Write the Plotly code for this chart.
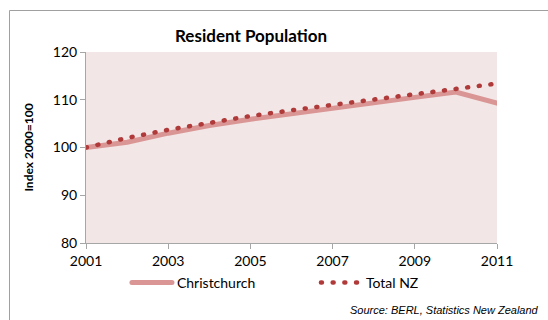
import plotly.graph_objects as go

# Annual index values, 2000=100
years = [2001, 2002, 2003, 2004, 2005, 2006, 2007, 2008, 2009, 2010, 2011]
christchurch = [100.0, 101.1, 103.0, 104.6, 105.9, 107.1, 108.3, 109.4, 110.5, 111.6, 109.3]
total_nz = [100.0, 102.0, 103.7, 105.2, 106.6, 107.8, 108.9, 110.0, 111.1, 112.3, 113.4]
tick_years = [2001, 2003, 2005, 2007, 2009, 2011]
y_ticks = [80, 90, 100, 110, 120]

font_main = "Lato, 'Open Sans', sans-serif"
axis_grey = "#a6a6a6"

fig = go.Figure()
fig.add_scatter(
    x=years, y=christchurch, name="Christchurch", mode="lines",
    line=dict(color="#d99694", width=5),
)
fig.add_scatter(
    x=years, y=total_nz, name="Total NZ", mode="lines",
    line=dict(color="#b03a3a", width=4.5, dash="1px,10.7px"),
)

fig.update_layout(
    width=548, height=320,
    paper_bgcolor="white",
    plot_bgcolor="#f2e6e6",
    margin=dict(l=86, r=51, t=52, b=77),
    font=dict(family=font_main, size=14, color="#000000"),
    showlegend=True,
    legend=dict(
        orientation="h", x=(129 - 86) / 411 - 0.005, xanchor="left", y=-0.125, yanchor="top",
        font=dict(size=14), itemwidth=40, entrywidth=134, entrywidthmode="pixels",
        tracegroupgap=0, bgcolor="rgba(0,0,0,0)",
    ),
    xaxis=dict(
        range=[2001, 2011], tickvals=tick_years, ticktext=[str(t) for t in tick_years],
        showgrid=False, zeroline=False, showline=True, linecolor=axis_grey, linewidth=1,
        ticks="outside", ticklen=5, tickcolor=axis_grey, tickfont=dict(size=14),
    ),
    yaxis=dict(
        range=[80, 120], tickvals=y_ticks,
        showgrid=False, zeroline=False, showline=True, linecolor=axis_grey, linewidth=1,
        ticks="outside", ticklen=5, tickcolor=axis_grey, tickfont=dict(size=14),
        title=dict(text="<b>Index 2000=100</b>", font=dict(size=12), standoff=16),
    ),
    annotations=[
        dict(text="<b>Resident Population</b>", xref="paper", yref="paper",
             x=(251 - 86) / 411, y=(243 - 36) / 191, xanchor="center", yanchor="middle",
             showarrow=False, font=dict(size=17)),
        dict(text="<i>Source: BERL, Statistics New Zealand</i>", xref="paper", yref="paper",
             x=(541 - 86) / 411, y=(243 - 310) / 191, xanchor="right", yanchor="middle",
             showarrow=False, font=dict(family="'Liberation Sans', Arial, sans-serif", size=11)),
    ],
    shapes=[
        dict(type="rect", xref="paper", yref="paper",
             x0=(9.5 - 86) / 411, x1=(560 - 86) / 411,
             y0=(243 - 330) / 191, y1=(243 - 10.5) / 191,
             line=dict(color="#a0a0a0", width=1), fillcolor="rgba(0,0,0,0)", layer="below"),
    ],
)

post_script = """
document.body.style.margin = '0';
document.querySelectorAll('.js-line').forEach(function(p){ p.style.strokeLinecap = 'round'; });
"""

fig.write_html("out.html", post_script=post_script, config={"displayModeBar": False})
